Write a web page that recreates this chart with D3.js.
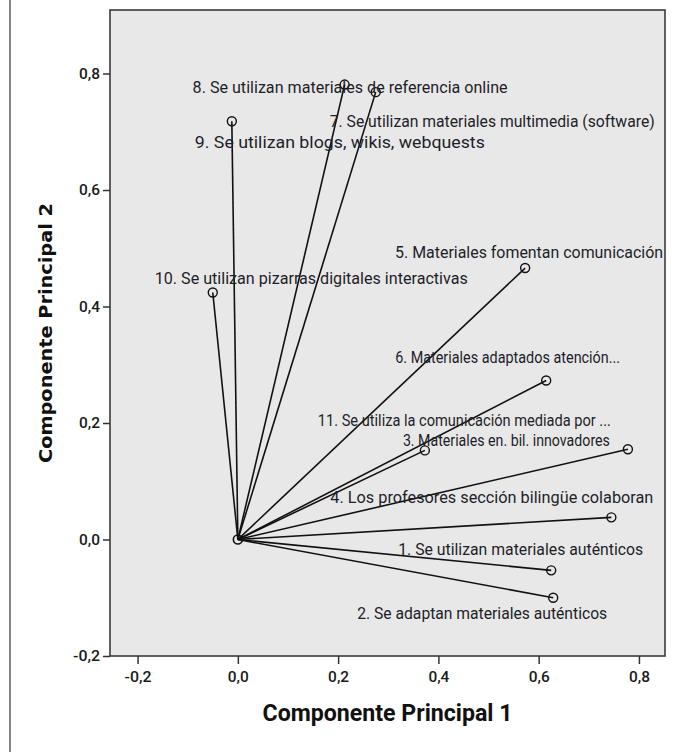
<!DOCTYPE html>
<html>
<head>
<meta charset="utf-8">
<script src="https://cdn.jsdelivr.net/npm/d3@7"></script>
<style>
  html, body { margin: 0; padding: 0; background: #fff; }
  svg { display: block; }
</style>
</head>
<body>
<svg id="chart" width="694" height="752"></svg>
<script>
// ---- data ----
const itemLabels = [
  "1. Se utilizan materiales auténticos",
  "2. Se adaptan materiales auténticos",
  "3. Materiales en. bil. innovadores",
  "4. Los profesores sección bilingüe colaboran",
  "5. Materiales fomentan comunicación",
  "6. Materiales adaptados atención...",
  "7. Se utilizan materiales multimedia (software)",
  "8. Se utilizan materiales de referencia online",
  "9. Se utilizan blogs, wikis, webquests",
  "10. Se utilizan pizarras digitales interactivas",
  "11. Se utiliza la comunicación mediada por ..."
];
const component1 = [0.625, 0.629, 0.778, 0.745, 0.573, 0.615, 0.275, 0.213, -0.012, -0.050, 0.373];
const component2 = [-0.053, -0.100, 0.155, 0.038, 0.466, 0.273, 0.768, 0.781, 0.718, 0.424, 0.153];
const xTicks = [-0.2, 0.0, 0.2, 0.4, 0.6, 0.8];
const yTicks = [-0.2, 0.0, 0.2, 0.4, 0.6, 0.8];
const xTitle = "Componente Principal 1";
const yTitle = "Componente Principal 2";

// ---- layout (label placement offsets in px, relative to each point) ----
const labelDx = [-153, -196, -225, -281, -130, -151, -46, -152, -37, -58, -107];
const labelDy = [-15, 21, -3, -14, -10, -17, 35, 8, 27, -9, -24];
const labelW  = [245, 250, 207, 323, 268, 225, 325, 315, 290, 313, 293];

const svg = d3.select("#chart");
const plot = {left: 110, top: 10, right: 665, bottom: 656};

const x = d3.scaleLinear().domain([-0.255, 0.852]).range([plot.left, plot.right]);
const y = d3.scaleLinear().domain([-0.2, 0.909]).range([plot.bottom, plot.top]);

// outer frame line at left
svg.append("line").attr("x1", 10).attr("x2", 10).attr("y1", 0).attr("y2", 752)
  .attr("stroke", "#333").attr("stroke-width", 1.2);

// plot background
svg.append("rect")
  .attr("x", plot.left).attr("y", plot.top)
  .attr("width", plot.right - plot.left).attr("height", plot.bottom - plot.top)
  .attr("fill", "#e8e8e8").attr("stroke", "#3a3a3a").attr("stroke-width", 1.6);

const fmt = d => d3.format(".1f")(d).replace(".", ",").replace("\u2212", "-");

// axes
const xAxis = d3.axisBottom(x).tickValues(xTicks).tickFormat(fmt).tickSize(8).tickPadding(5);
const yAxis = d3.axisLeft(y).tickValues(yTicks).tickFormat(fmt).tickSize(7).tickPadding(3);

const gx = svg.append("g").attr("transform", `translate(0,${plot.bottom})`).call(xAxis);
const gy = svg.append("g").attr("transform", `translate(${plot.left},0)`).call(yAxis);
[gx, gy].forEach(g => {
  g.select(".domain").remove();
  g.selectAll(".tick line").attr("stroke", "#333").attr("stroke-width", 1.5);
  g.selectAll(".tick text")
    .attr("fill", "#1a1a1a")
    .attr("textLength", d => d < 0 ? 27 : 21)
    .attr("lengthAdjust", "spacingAndGlyphs")
    .style("font-family", "'Roboto', sans-serif")
    .style("font-weight", "500")
    .style("font-size", "15px");
});
gx.selectAll(".tick text").attr("dy", "0.85em");

// vectors
const pts = component1.map((v, i) => ({x: v, y: component2[i], i}));

svg.append("g").selectAll("line").data(pts).join("line")
  .attr("x1", x(0)).attr("y1", y(0))
  .attr("x2", d => x(d.x)).attr("y2", d => y(d.y))
  .attr("stroke", "#111").attr("stroke-width", 1.6);

// origin marker
svg.append("circle").attr("cx", x(0)).attr("cy", y(0)).attr("r", 4.5)
  .attr("fill", "none").attr("stroke", "#111").attr("stroke-width", 1.6);

svg.append("g").selectAll("circle").data(pts).join("circle")
  .attr("cx", d => x(d.x)).attr("cy", d => y(d.y)).attr("r", 4.5)
  .attr("fill", "none").attr("stroke", "#111").attr("stroke-width", 1.4);

// labels
svg.append("g").selectAll("text").data(pts).join("text")
  .attr("x", d => x(d.x) + labelDx[d.i])
  .attr("y", d => y(d.y) + labelDy[d.i])
  .attr("textLength", d => labelW[d.i])
  .attr("lengthAdjust", "spacingAndGlyphs")
  .attr("fill", "#1e1e28")
  .style("font-family", "'Roboto', sans-serif")
  .style("font-size", "16px")
  .text(d => itemLabels[d.i]);

// axis titles
svg.append("text")
  .attr("x", (plot.left + plot.right) / 2).attr("y", 721)
  .attr("text-anchor", "middle")
  .attr("textLength", 250).attr("lengthAdjust", "spacingAndGlyphs")
  .attr("fill", "#111")
  .style("font-family", "'Roboto', sans-serif").style("font-weight", "bold")
  .style("font-size", "23px")
  .text(xTitle);

svg.append("text")
  .attr("transform", `translate(52,${(plot.top + plot.bottom) / 2}) rotate(-90)`)
  .attr("text-anchor", "middle")
  .attr("textLength", 260).attr("lengthAdjust", "spacingAndGlyphs")
  .attr("fill", "#111")
  .style("font-family", "'DejaVu Sans', sans-serif").style("font-weight", "bold")
  .style("font-size", "18px")
  .text(yTitle);
</script>
</body>
</html>
